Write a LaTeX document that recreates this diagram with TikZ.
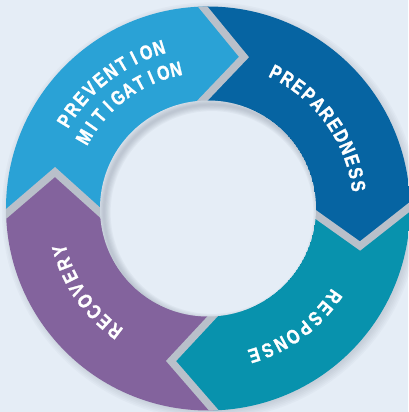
\documentclass[tikz,border=0pt]{standalone}
\usepackage{fontspec}
\newfontfamily\labfont[UprightFont={* Bold},FakeStretch=0.8,FakeBold=1.2]{Liberation Sans}
\newcommand\lbfont{\labfont\fontsize{20}{21}\selectfont}
\usetikzlibrary{calc}
\definecolor{bgc}{HTML}{E5EDF6}
\definecolor{prevc}{HTML}{2AA2D6}
\definecolor{prepc}{HTML}{0664A2}
\definecolor{respc}{HTML}{0892AD}
\definecolor{recc}{HTML}{83639D}
\definecolor{gapc}{HTML}{B9C0CA}
\definecolor{shadc}{HTML}{7D8796}
\newdimen\arcW
% #1 baseline radius, #2 start angle, #3 end angle (clockwise), #4 comma list of letters
\newcommand\arcText[4]{%
  \global\arcW=0pt \gdef\arcN{0}%
  \foreach \c in {#4}{\setbox0=\hbox{\lbfont\c}\global\advance\arcW by \wd0
    \pgfmathtruncatemacro\tmpn{\arcN+1}\xdef\arcN{\tmpn}}%
  \pgfmathsetmacro\arcG{(#1*((#2-#3)/180*pi) - \the\arcW)/(\arcN-1)}%
  \gdef\arcS{0}%
  \foreach \c in {#4}{%
    \setbox0=\hbox{\lbfont\c}%
    \pgfmathsetmacro\arcA{#2 - ((\arcS + 0.5*\the\wd0)/#1)*(180/pi)}%
    \node[labchar, rotate=\arcA-90] at (\arcA:#1) {\c};
    \pgfmathsetmacro\tmps{\arcS + \the\wd0 + \arcG}\xdef\arcS{\tmps}%
  }%
}
\begin{document}
\begin{tikzpicture}[x=1pt,y=1pt,
  gapline/.style={gapc, line width=7.5pt, line join=miter},
  labchar/.style={font=\lbfont, text=white, inner sep=0pt, anchor=base}]
\fill[bgc] (-208,-203.5) rectangle (200,208.5);
\useasboundingbox (-208,-203.5) rectangle (200,208.5);
% chevron boundary points
\coordinate (C0) at (0,0);
\coordinate (AO) at (-21.4,221.5); \coordinate (AT) at (36,151.5);  \coordinate (AI) at (-21.4,91.3);
\coordinate (BO) at (217.8,14.3);  \coordinate (BT) at (152,-37.5); \coordinate (BI) at (89,7.3);
\coordinate (CO) at (22.5,-221.1); \coordinate (CT) at (-37,-152.5); \coordinate (CI) at (20.4,-90.9);
\coordinate (DO) at (-221.6,-22.3); \coordinate (DT) at (-153,36.5); \coordinate (DI) at (-90,-20.2);
% outer drop shadow
\foreach \k in {1,...,6}
  \fill[shadc, opacity=0.05] (2.5,-2.5) circle ({199+\k*1.6});
\begin{scope}
  \clip (C0) circle (202);
  \fill[prevc] (C0) -- (DI) -- (DT) -- (DO) -- (-300,-22.3) -- (-300,300) -- (-21.4,300) -- (AO) -- (AT) -- (AI) -- cycle;
  \fill[prepc] (C0) -- (AI) -- (AT) -- (AO) -- (-21.4,300) -- (300,300) -- (300,14.3) -- (BO) -- (BT) -- (BI) -- cycle;
  \fill[respc] (C0) -- (BI) -- (BT) -- (BO) -- (300,14.3) -- (300,-300) -- (22.5,-300) -- (CO) -- (CT) -- (CI) -- cycle;
  \fill[recc] (C0) -- (CI) -- (CT) -- (CO) -- (22.5,-300) -- (-300,-300) -- (-300,-22.3) -- (DO) -- (DT) -- (DI) -- cycle;
  \draw[gapline] (AO) -- (AT) -- (AI);
  \draw[gapline] (BO) -- (BT) -- (BI);
  \draw[gapline] (CO) -- (CT) -- (CI);
  \draw[gapline] (DO) -- (DT) -- (DI);
\end{scope}
% hole with inner shadow
\begin{scope}
  \clip (C0) circle (108);
  \fill[bgc] (C0) circle (108);
  \foreach \k in {1,...,6}
    \draw[shadc, opacity=0.07, line width={\k*2.2pt}] (4,-4) circle (108);
\end{scope}
% labels
\arcText{161}{148.5}{107}{P,R,E,V,E,N,T,I,O,N}
\arcText{136}{150}{103}{M,I,T,I,G,A,T,I,O,N}
\arcText{145}{63.5}{8.5}{P,R,E,P,A,R,E,D,N,E,S,S}
\arcText{147}{-35}{-72.5}{R,E,S,P,O,N,S,E}
\arcText{147}{232.8}{195.8}{R,E,C,O,V,E,R,Y}
\end{tikzpicture}
\end{document}
